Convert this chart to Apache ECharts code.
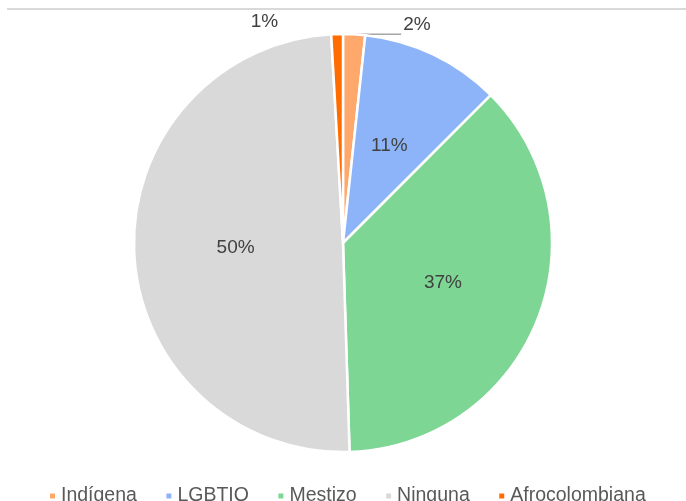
<!DOCTYPE html>
<html>
<head>
<meta charset="utf-8">
<script src="https://cdn.jsdelivr.net/npm/echarts@6/dist/echarts.min.js"></script>
<style>
  html, body { margin: 0; padding: 0; background: #fff; }
  #chart { width: 686px; height: 501px; }
</style>
</head>
<body>
<div id="chart"></div>
<script>
const categories = ["Indígena", "LGBTIQ", "Mestizo", "Ninguna", "Afrocolombiana"];
const shares = [1.7, 10.8, 37.0, 49.6, 0.9];
const colors = ["#ffa86b", "#8db4f8", "#7dd694", "#d9d9d9", "#ff6d00"];

const FONT = '"Liberation Sans", Arial, sans-serif';

const chart = echarts.init(document.getElementById("chart"));

// small slices get outside labels like the original; the extra blank line
// lifts the text above the end of the leader line
const outside = {
  0: { length: 0, length2: 47, line: true, lh: 20 },
  4: { length: 0, length2: 57, line: false, lh: 24 },
};

const data = categories.map((name, i) => {
  const item = { name, value: shares[i], itemStyle: { color: colors[i] } };
  const o = outside[i];
  if (o) {
    item.label = {
      position: "outside",
      distanceToLabelLine: 2,
      lineHeight: o.lh,
      formatter: (p) => Math.round(p.percent) + "%\n ",
    };
    item.labelLine = {
      show: o.line,
      length: o.length,
      length2: o.length2,
      lineStyle: { color: "#a6a6a6", width: 1.5 },
    };
  }
  return item;
});

chart.setOption({
  backgroundColor: "#fff",
  animation: false,
  graphic: [{
    type: "line",
    shape: { x1: 7, y1: 9, x2: 686, y2: 9 },
    style: { stroke: "#d9d9d9", lineWidth: 2 },
  }],
  legend: {
    data: categories,
    left: 43,
    top: 481,
    icon: "rect",
    itemWidth: 7,
    itemHeight: 7,
    itemGap: 27.5,
    textStyle: { color: "#595959", fontSize: 19.5, fontFamily: FONT },
  },
  series: [{
    type: "pie",
    center: [343, 243],
    radius: 209,
    startAngle: 90,
    clockwise: true,
    avoidLabelOverlap: false,
    itemStyle: { borderColor: "#fff", borderWidth: 2.5 },
    label: {
      position: "inside",
      color: "#404040",
      fontSize: 19,
      fontFamily: FONT,
      formatter: (p) => Math.round(p.percent) + "%",
    },
    labelLine: { show: true },
    data,
  }],
});
</script>
</body>
</html>
